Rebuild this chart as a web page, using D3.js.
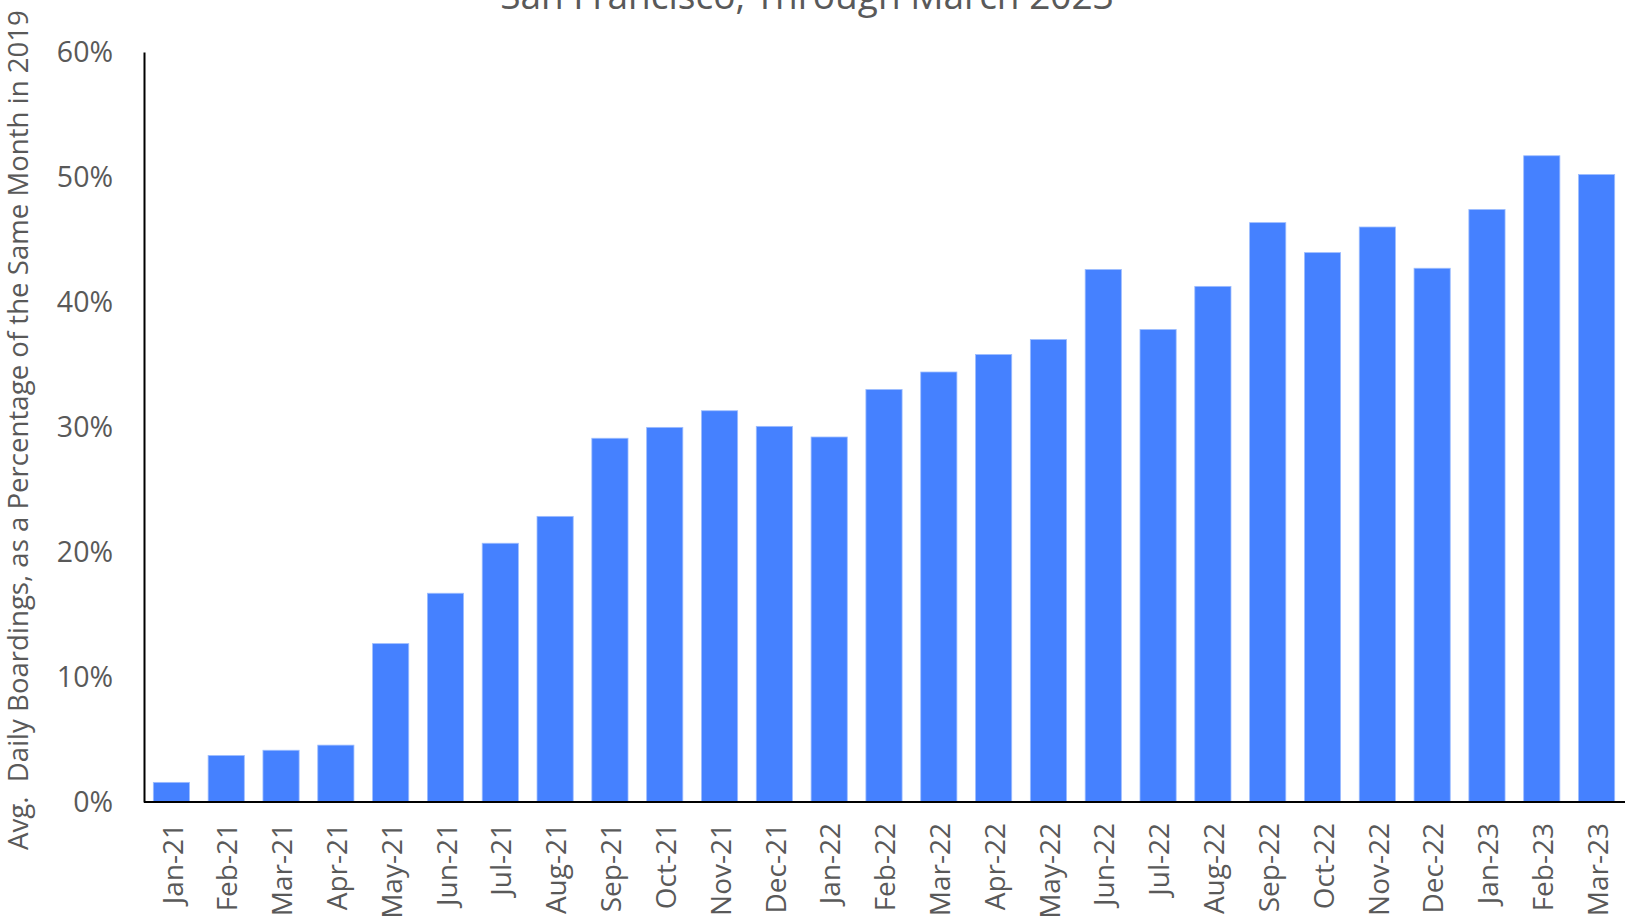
<!DOCTYPE html>
<html>
<head>
<meta charset="utf-8">
<script src="https://cdn.jsdelivr.net/npm/d3@7"></script>
<style>
  html, body { margin: 0; padding: 0; background: #fff; }
  svg { display: block; font-family: "Open Sans", sans-serif; }
</style>
</head>
<body>
<svg id="chart" width="1625" height="920"></svg>
<script>
const months = ["Jan-21","Feb-21","Mar-21","Apr-21","May-21","Jun-21","Jul-21","Aug-21","Sep-21","Oct-21","Nov-21","Dec-21",
                "Jan-22","Feb-22","Mar-22","Apr-22","May-22","Jun-22","Jul-22","Aug-22","Sep-22","Oct-22","Nov-22","Dec-22",
                "Jan-23","Feb-23","Mar-23"];
const ridershipPct = [0.0157,0.0372,0.0414,0.0455,0.1267,0.167,0.207,0.2285,0.291,0.2997,0.313,0.3005,
                      0.292,0.330,0.344,0.358,0.370,0.426,0.378,0.4125,0.4635,0.4395,0.460,0.427,
                      0.474,0.517,0.502];
const yTicks = [0,0.1,0.2,0.3,0.4,0.5,0.6];
const titleText = "San Francisco, Through March 2023";
const yTitle = "Avg.\u00A0\u00A0Daily Boardings, as a Percentage of the Same Month in 2019";

const svg = d3.select("#chart");
const textColor = "#595959";

const x = d3.scaleBand().domain(months).range([144, 1624]).paddingInner(0.34).paddingOuter(0.17);
const y = d3.scaleLinear().domain([0, 0.6]).range([802, 52]);

// title
svg.append("text")
  .attr("x", 807).attr("y", 9)
  .attr("text-anchor", "middle")
  .attr("fill", textColor)
  .style("font-size", "37px")
  .text(titleText);

// bars
svg.append("g").selectAll("rect")
  .data(months.map((m, i) => ({m, v: ridershipPct[i]})))
  .join("rect")
  .attr("x", d => x(d.m))
  .attr("width", x.bandwidth())
  .attr("y", d => y(d.v))
  .attr("height", d => y(0) - y(d.v))
  .attr("fill", "#4581ff")
  .attr("stroke", "#9dbdff")
  .attr("stroke-width", 0.8);

// y axis
const yAxis = svg.append("g")
  .attr("transform", "translate(144,0)")
  .call(d3.axisLeft(y).tickValues(yTicks).tickFormat(d3.format(".0%")).tickSize(0).tickPadding(31));
yAxis.select(".domain").attr("stroke", "#000").attr("stroke-width", 2);
yAxis.selectAll("text").attr("fill", textColor).style("font-size", "28.5px").style("font-family", "Open Sans");

// x axis
const xAxis = svg.append("g")
  .attr("transform", "translate(0,802)")
  .call(d3.axisBottom(x).tickSize(0));
xAxis.select(".domain").attr("stroke", "#000").attr("stroke-width", 2).attr("d", "M144,0H1625");
xAxis.selectAll("text")
  .attr("fill", textColor)
  .style("font-size", "28px").style("font-family", "Open Sans")
  .attr("text-anchor", "end")
  .attr("transform", "rotate(-90)")
  .attr("x", -21).attr("y", 0).attr("dy", "0.4em");

// y title
svg.append("text")
  .attr("transform", "translate(28,850) rotate(-90)")
  .attr("text-anchor", "start")
  .attr("fill", textColor)
  .style("font-size", "27.6px")
  .text(yTitle);
</script>
</body>
</html>
